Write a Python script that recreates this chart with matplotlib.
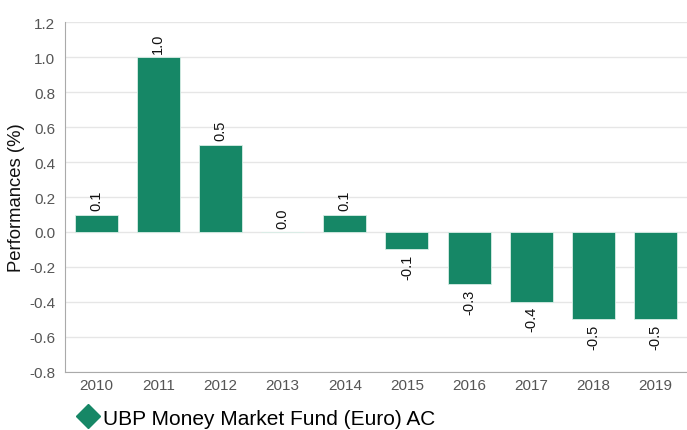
import matplotlib
matplotlib.use("Agg")
import matplotlib.pyplot as plt
from matplotlib.lines import Line2D

years = ["2010", "2011", "2012", "2013", "2014", "2015", "2016", "2017", "2018", "2019"]
perf = [0.1, 1.0, 0.5, 0.0, 0.1, -0.1, -0.3, -0.4, -0.5, -0.5]
labels = ["0.1", "1.0", "0.5", "0.0", "0.1", "-0.1", "-0.3", "-0.4", "-0.5", "-0.5"]
series_name = "UBP Money Market Fund (Euro) AC"

GREEN = "#168766"
plt.rcParams["font.family"] = ["Liberation Sans", "DejaVu Sans"]

fig = plt.figure(figsize=(6.87, 4.31), dpi=100)
ax = fig.add_axes([0.0946, 0.1346, 0.905, 0.812])

x = range(len(years))
ax.bar(x, perf, width=0.69, color=GREEN, edgecolor="#d8eee6", linewidth=0.6, zorder=3)

for i, (v, t) in enumerate(zip(perf, labels)):
    if v >= 0:
        ax.annotate(t, (i, v), xytext=(0, 3), textcoords="offset points",
                    rotation=90, ha="center", va="bottom", fontsize=10.5, color="#111111")
    else:
        ax.annotate(t, (i, v), xytext=(0, -3), textcoords="offset points",
                    rotation=90, ha="center", va="top", fontsize=10.5, color="#111111")

ax.set_xlim(-0.5, len(years) - 0.5)
ax.set_ylim(-0.8, 1.2)
ax.set_yticks([-0.8, -0.6, -0.4, -0.2, 0.0, 0.2, 0.4, 0.6, 0.8, 1.0, 1.2])
ax.set_yticklabels([f"{t:.1f}" for t in ax.get_yticks()])
ax.set_xticks(list(x))
ax.set_xticklabels(years)
ax.tick_params(axis="both", length=0, labelsize=11, labelcolor="#555555")
ax.tick_params(axis="y", pad=7)
ax.tick_params(axis="x", pad=4)
ax.grid(axis="y", color="#e6e6e6", linewidth=1, zorder=0)
ax.spines[["top", "right"]].set_visible(False)
for s in ("left", "bottom"):
    ax.spines[s].set_color("#aaaaaa")
ax.set_ylabel("Performances (%)", fontsize=13.3, color="#111111", labelpad=3)

handle = Line2D([], [], marker="D", color="none", markerfacecolor=GREEN,
                markeredgecolor=GREEN, markersize=12)
fig.legend([handle], [series_name], loc="lower left", bbox_to_anchor=(0.082, -0.038),
           frameon=False, fontsize=15, handletextpad=0.15, handlelength=1.2)

fig.savefig("out.png", dpi=100, facecolor="white")
